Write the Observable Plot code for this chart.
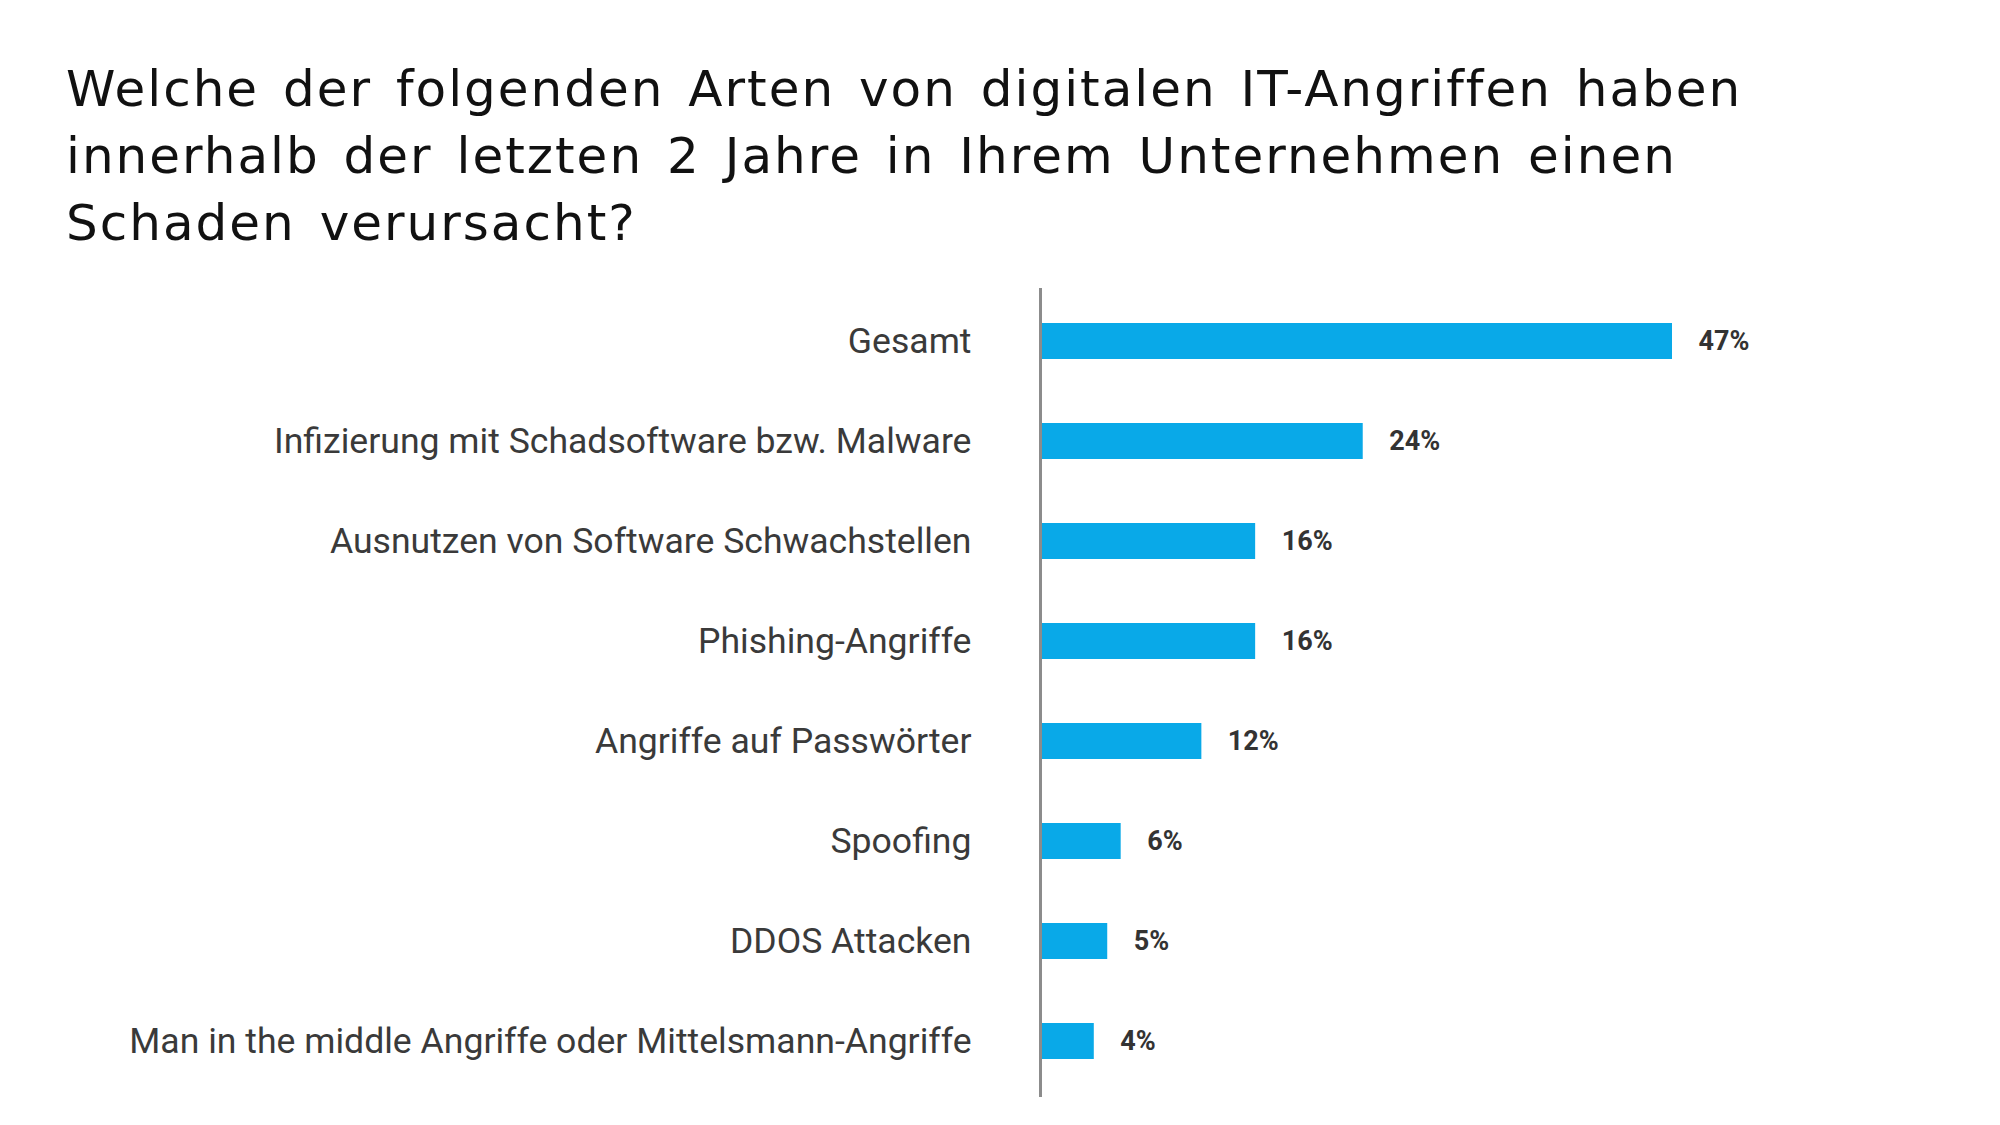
<!DOCTYPE html>
<html lang="de">
<head>
<meta charset="utf-8">
<script src="https://cdn.jsdelivr.net/npm/d3@7"></script>
<script src="https://cdn.jsdelivr.net/npm/@observablehq/plot@0.6"></script>
<style>
  html, body { margin: 0; padding: 0; background: #fff; width: 2000px; height: 1125px; overflow: hidden; }
  #title {
    position: absolute; left: 66px; top: 56px;
    font-family: "DejaVu Sans", Verdana, sans-serif;
    font-size: 50px; line-height: 67px; color: #111;
    letter-spacing: 2px; word-spacing: 6px;
    white-space: nowrap;
  }
  #chart { position: absolute; left: 0; top: 268px; }
</style>
</head>
<body>
<div id="title">Welche der folgenden Arten von digitalen IT-Angriffen haben<br>innerhalb der letzten 2 Jahre in Ihrem Unternehmen einen<br>Schaden verursacht?</div>
<div id="chart"></div>
<script>
// Attack types (top to bottom) and share of companies reporting damage, in percent
const categories = [
  "Gesamt",
  "Infizierung mit Schadsoftware bzw. Malware",
  "Ausnutzen von Software Schwachstellen",
  "Phishing-Angriffe",
  "Angriffe auf Passwörter",
  "Spoofing",
  "DDOS Attacken",
  "Man in the middle Angriffe oder Mittelsmann-Angriffe"
];
const values = [47, 24, 16, 16, 12, 6, 5, 4];
const valueLabels = ["47%", "24%", "16%", "16%", "12%", "6%", "5%", "4%"];

const rows = categories.map((c, i) => ({category: c, value: values[i], label: valueLabels[i]}));

const chart = Plot.plot({
  width: 2000,
  height: 857,
  marginLeft: 1040,
  marginRight: 328,
  marginTop: 20,
  marginBottom: 28,
  style: {fontFamily: "Roboto, 'Open Sans', sans-serif", fontSize: "35.6px", color: "#3a3a3a", background: "#fff"},
  x: {domain: [0, 47], axis: null},
  y: {domain: categories, range: [20.3, 824.9], paddingInner: 0.64, paddingOuter: 0.32, label: null},
  marks: [
    Plot.axisY({tickSize: 0, tickPadding: 69, fontSize: 35.6, label: null}),
    Plot.barX(rows, {x: "value", y: "category", fill: "#09a9e8"}),
    Plot.ruleX([0], {stroke: "#8c8c8c", strokeWidth: 3}),
    Plot.text(rows, {
      x: "value", y: "category", text: "label",
      dx: 26, textAnchor: "start",
      fontSize: 27, fontWeight: "bold", fill: "#333"
    })
  ]
});
document.getElementById("chart").appendChild(chart);
</script>
</body>
</html>
